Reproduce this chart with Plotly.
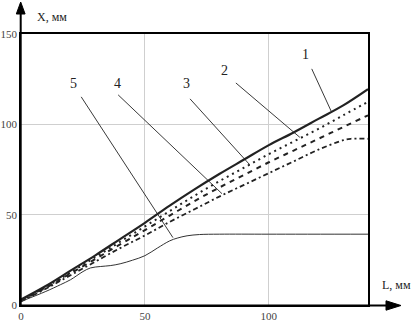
import plotly.graph_objects as go

# ---- data ----
L_main = [0, 10, 20, 30, 40, 50, 60, 70, 80, 90, 100, 110, 120, 130, 140]
curve1 = [3, 10.5, 19, 27.5, 36.5, 45.5, 55, 64, 72.5, 80.5, 88.5, 95.5, 103, 110.5, 119.5]
curve2 = [2.5, 10, 18, 26.5, 35, 43.5, 52, 60.5, 68.5, 76, 83.5, 90.5, 97.5, 105, 112.5]
curve3 = [2.5, 9.5, 17.5, 25.5, 33.5, 41.5, 49.5, 57.5, 65, 72, 79, 85.5, 92, 98.5, 105]
L_4 = [0, 10, 20, 30, 40, 50, 60, 70, 80, 90, 100, 110, 120, 130, 133, 140]
curve4 = [2, 9, 16.5, 24, 31.5, 38.5, 46, 53, 60, 66.5, 73, 79.5, 86, 91.2, 92, 92]
L_5 = [0, 10, 16, 20, 25, 28, 32, 36, 40, 45, 50, 55, 60, 63, 67, 72, 80, 100, 140]
curve5 = [2, 7.5, 11.3, 14, 18.5, 20.5, 21.3, 21.8, 22.8, 24.8, 27.3, 31.5, 35.5, 37, 38.3, 39, 39.2, 39.2, 39.2]

x_ticks = [0, 50, 100]
y_ticks = [0, 50, 100, 150]
curve_labels = ["1", "2", "3", "4", "5"]
label_pos = [(114.9, 138.5), (82.3, 129.6), (66.9, 122.4), (39.0, 122.4), (21.3, 122.7)]
leader_start = [(117.3, 130.7), (86.7, 122.9), (68.2, 114.1), (39.2, 116.3), (24.3, 115.2)]
leader_end = [(125.2, 107.1), (112.5, 92.8), (92.3, 77.6), (81.1, 61.6), (61.3, 37.3)]

fig = go.Figure()
fig.add_trace(go.Scatter(x=L_main, y=curve1, mode="lines", line=dict(color="#222", width=2.2), line_shape="spline"))
fig.add_trace(go.Scatter(x=L_main, y=curve2, mode="lines", line=dict(color="#222", width=2, dash="2px,4px"), line_shape="spline"))
fig.add_trace(go.Scatter(x=L_main, y=curve3, mode="lines", line=dict(color="#222", width=2, dash="5px,5px"), line_shape="spline"))
fig.add_trace(go.Scatter(x=L_4, y=curve4, mode="lines", line=dict(color="#222", width=1.8, dash="5px,3px,2px,3px"), line_shape="spline"))
fig.add_trace(go.Scatter(x=L_5, y=curve5, mode="lines", line=dict(color="#333", width=1), line_shape="spline"))

ML, MR, MT, MB = 21, 46, 34, 16
W, H = 414, 321
PW, PH = W - ML - MR, H - MT - MB


def px(xp):
    return (xp - ML) / PW


def py(yp):
    return (H - MB - yp) / PH


shapes = []
# leader lines
for (x0, y0), (x1, y1) in zip(leader_start, leader_end):
    shapes.append(dict(type="line", xref="x", yref="y", x0=x0, y0=y0, x1=x1, y1=y1,
                       line=dict(color="#222", width=0.9)))
# extended axes
shapes.append(dict(type="line", xref="paper", yref="paper", x0=px(20.7), y0=py(305.5), x1=px(20.7), y1=py(8),
                   line=dict(color="black", width=2)))
shapes.append(dict(type="line", xref="paper", yref="paper", x0=px(20.7), y0=py(305.5), x1=px(392), y1=py(305.5),
                   line=dict(color="black", width=2)))
# arrow heads
shapes.append(dict(type="path", xref="paper", yref="paper",
                   path=f"M {px(20.7)} {py(2)} L {px(16.3)} {py(14)} L {px(25.1)} {py(14)} Z",
                   fillcolor="black", line=dict(color="black", width=1)))
shapes.append(dict(type="path", xref="paper", yref="paper",
                   path=f"M {px(401)} {py(305.5)} L {px(386)} {py(300.8)} L {px(386)} {py(310.2)} Z",
                   fillcolor="black", line=dict(color="black", width=1)))

annotations = []
for lab, (lx, ly) in zip(curve_labels, label_pos):
    annotations.append(dict(x=lx, y=ly, xref="x", yref="y", text=lab, showarrow=False,
                            xanchor="center", yanchor="middle",
                            font=dict(family="Liberation Serif", size=14, color="#222")))
annotations.append(dict(x=px(52), y=py(17), xref="paper", yref="paper", text="X, мм", showarrow=False,
                        xanchor="center", yanchor="middle",
                        font=dict(family="Liberation Serif", size=12, color="#222")))
annotations.append(dict(x=px(396), y=py(285), xref="paper", yref="paper", text="L, мм", showarrow=False,
                        xanchor="center", yanchor="middle",
                        font=dict(family="Liberation Serif", size=12, color="#222")))

fig.update_layout(
    width=W, height=H,
    margin=dict(l=ML, r=MR, t=MT, b=MB, autoexpand=False),
    paper_bgcolor="white", plot_bgcolor="white",
    showlegend=False,
    shapes=shapes,
    annotations=annotations,
    font=dict(family="Liberation Serif", size=11, color="#444"),
)
fig.update_xaxes(range=[0, 140], tickvals=x_ticks, ticktext=[str(v) for v in x_ticks],
                 showgrid=True, gridcolor="#cfcfcf", gridwidth=1, zeroline=False, automargin=False,
                 showline=True, linecolor="black", linewidth=1.5, mirror=True,
                 ticks="", ticklen=0, tickfont=dict(family="Liberation Serif", size=11, color="#444"))
fig.update_yaxes(range=[0, 150], tickvals=y_ticks, ticktext=[str(v) for v in y_ticks],
                 showgrid=True, gridcolor="#cfcfcf", gridwidth=1, zeroline=False, automargin=False,
                 showline=True, linecolor="black", linewidth=1.5, mirror=True,
                 ticks="", ticklen=0, tickfont=dict(family="Liberation Serif", size=11, color="#444"))

fig.write_html("out.html", config={"displayModeBar": False},
               post_script="document.body.style.margin='0';document.body.style.overflow='hidden';")
